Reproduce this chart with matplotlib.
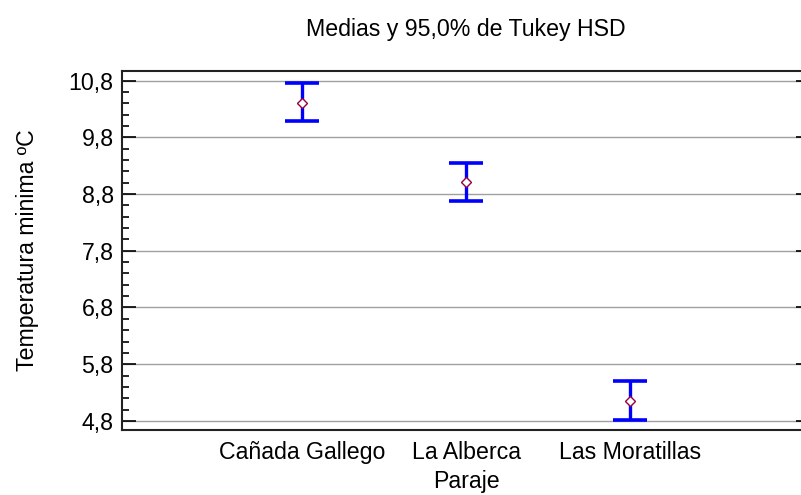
import matplotlib.pyplot as plt
from matplotlib.ticker import MultipleLocator, FixedLocator

plt.rcParams['font.family'] = ['Liberation Sans', 'DejaVu Sans']

# data
parajes = ["Cañada Gallego", "La Alberca", "Las Moratillas"]
medias = [10.41, 9.02, 5.15]
lim_inf = [10.08, 8.67, 4.81]
lim_sup = [10.75, 9.35, 5.50]
y_ticks = [4.8, 5.8, 6.8, 7.8, 8.8, 9.8, 10.8]

fs = 16.7

fig = plt.figure(figsize=(8.01, 4.95), dpi=100)
ax = fig.add_axes([0.1523, 0.1313, 0.859, 0.7253])

x = [1, 2, 3]
yerr = [[m - lo for m, lo in zip(medias, lim_inf)],
        [hi - m for m, hi in zip(medias, lim_sup)]]
ax.errorbar(x, medias, yerr=yerr, fmt='none', ecolor='#0000ff',
            elinewidth=2.4, capsize=12.5, capthick=2.6, zorder=3)
ax.plot(x, medias, linestyle='none', marker='D', markersize=4.8,
        markerfacecolor='white', markeredgecolor='#990040',
        markeredgewidth=1.0, zorder=4)

ax.set_xlim(-0.1, 4.1)
ax.set_ylim(4.64, 10.97)
ax.set_xticks(x)
ax.set_xticklabels(parajes, fontsize=fs)
ax.tick_params(axis='x', length=0, pad=8)

ax.yaxis.set_major_locator(FixedLocator(y_ticks))
ax.yaxis.set_minor_locator(MultipleLocator(0.2))
ax.set_yticklabels([f"{v:.1f}".replace('.', ',') for v in y_ticks],
                   fontsize=fs)
ax.tick_params(axis='y', which='major', direction='in', length=10,
               width=1.2, right=True, pad=6)
ax.tick_params(axis='y', which='minor', direction='in', length=5,
               width=1.2, right=True)

ax.grid(axis='y', which='major', color='#a0a0a0', linewidth=1.0)
ax.set_axisbelow(True)
for s in ax.spines.values():
    s.set_linewidth(1.5)
    s.set_color('#222222')

ax.set_title("Medias y 95,0% de Tukey HSD", fontsize=fs, pad=25)
ax.set_xlabel("Paraje", fontsize=fs, labelpad=4)
ax.set_ylabel("Temperatura minima ºC", fontsize=fs, labelpad=21)

fig.savefig("out.png", dpi=100)
